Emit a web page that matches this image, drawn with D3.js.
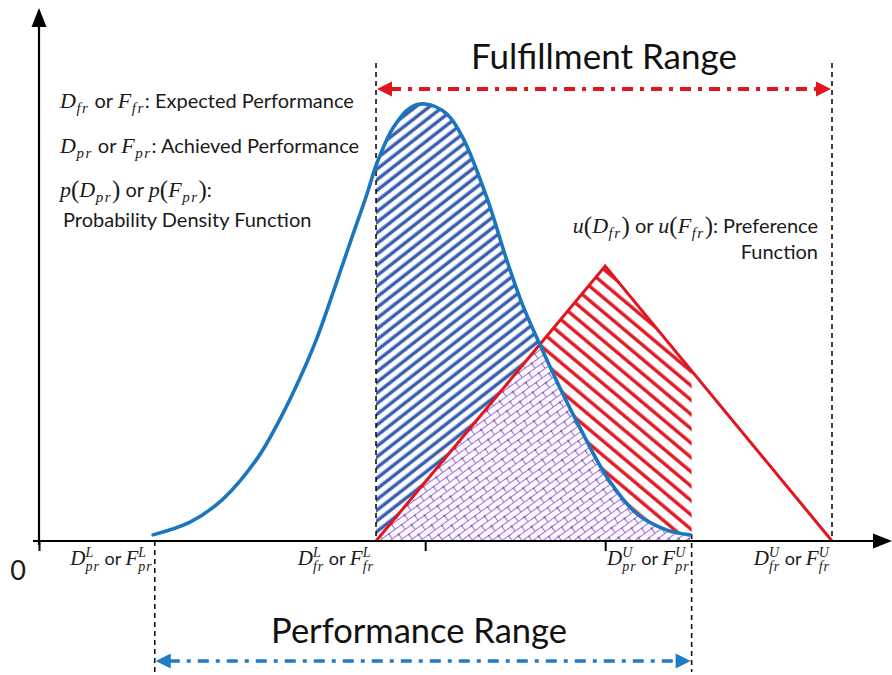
<!DOCTYPE html>
<html><head><meta charset="utf-8">
<script src="https://cdn.jsdelivr.net/npm/d3@7"></script>
<style>body{margin:0;background:#fff}svg{display:block}</style>
</head><body>
<svg id="c" width="892" height="675"></svg>
<script>
// ---------- data ----------
const pdfX = [14.38,19.04,23.20,27.49,30.39,32.91,35.06,37.07,39.22,41.36,42.62,44.64,46.78,48.68,51.45,53.47,56.49,59.02,61.03,63.18,65.70,68.22,71.63,75.41,79.19,82.09];
const pdfY = [0.014,0.043,0.096,0.188,0.279,0.373,0.465,0.568,0.682,0.794,0.865,0.945,0.991,1.0,0.977,0.922,0.785,0.641,0.538,0.449,0.350,0.259,0.146,0.062,0.025,0.014];
const prefX = [42.5, 71.4, 100];
const prefY = [0, 0.629, 0];
const perfRange = [14.6, 82.3];
const fulRange = [42.5, 100];
const tickVals = [0, 48.7, 71.4];

// ---------- setup ----------
const svg = d3.select('#c');
const x = d3.scaleLinear().domain([0, 100]).range([39, 832]);
const y = d3.scaleLinear().domain([0, 1]).range([541, 104]);
const MF = "'Liberation Serif','DejaVu Serif',serif";
const TF = "Lato,'Open Sans',sans-serif";
const BLUE = '#1b76bd', RED = '#e1161f';

const pdf = pdfX.map((v, i) => ({x: v, y: pdfY[i]}));
const pref = prefX.map((v, i) => ({x: v, y: prefY[i]}));

// ---------- patterns & clips ----------
const defs = svg.append('defs');
const pb = defs.append('pattern').attr('id', 'hb').attr('patternUnits', 'userSpaceOnUse')
  .attr('width', 20).attr('height', 8.4).attr('patternTransform', 'rotate(-38)');
pb.append('rect').attr('width', 20).attr('height', 8.4).attr('fill', '#fff');
pb.append('rect').attr('y', 2.6).attr('width', 20).attr('height', 3.2).attr('fill', '#3c5eab');
pb.append('rect').attr('y', 1.8).attr('width', 20).attr('height', 0.9).attr('fill', '#8fb3e6');

const pr = defs.append('pattern').attr('id', 'hr').attr('patternUnits', 'userSpaceOnUse')
  .attr('width', 20).attr('height', 11).attr('patternTransform', 'rotate(40)');
pr.append('rect').attr('width', 20).attr('height', 11).attr('fill', '#fff');
pr.append('rect').attr('y', 3.5).attr('width', 20).attr('height', 3.4).attr('fill', '#de1a22');

const pp = defs.append('pattern').attr('id', 'hp').attr('patternUnits', 'userSpaceOnUse')
  .attr('width', 16).attr('height', 12).attr('patternTransform', 'rotate(-36)');
pp.append('rect').attr('width', 16).attr('height', 12).attr('fill', '#fdf6fd');
pp.append('path').attr('d', 'M0,0.5H16M0,6.5H16M0.5,0.5V6.5M8.5,6.5V12.5')
  .attr('stroke', '#9a7ad2').attr('stroke-width', 1.1).attr('fill', 'none');
pp.append('circle').attr('cx', 0.5).attr('cy', 0.5).attr('r', 1.1).attr('fill', '#5b3f99');
pp.append('circle').attr('cx', 8.5).attr('cy', 6.5).attr('r', 1.1).attr('fill', '#5b3f99');

const curve = d3.curveCatmullRom.alpha(0.5);
const areaPdf = d3.area().x(d => x(d.x)).y0(y(0)).y1(d => y(d.y)).curve(curve);
const linePdf = d3.line().x(d => x(d.x)).y(d => y(d.y)).curve(curve);
const areaPref = d3.area().x(d => x(d.x)).y0(y(0)).y1(d => y(d.y));
const linePref = d3.line().x(d => x(d.x)).y(d => y(d.y));

defs.append('clipPath').attr('id', 'clipRange').append('rect')
  .attr('x', x(fulRange[0])).attr('y', 0)
  .attr('width', x(perfRange[1]) - x(fulRange[0])).attr('height', y(0));
defs.append('clipPath').attr('id', 'clipPdf').append('path').attr('d', areaPdf(pdf));

// ---------- hatched regions ----------
const gh = svg.append('g').attr('clip-path', 'url(#clipRange)');
gh.append('path').attr('d', areaPdf(pdf)).attr('fill', 'url(#hb)');
gh.append('path').attr('d', areaPref(pref)).attr('fill', 'url(#hr)');
gh.append('g').attr('clip-path', 'url(#clipPdf)')
  .append('path').attr('d', areaPref(pref)).attr('fill', 'url(#hp)');

// ---------- dashed verticals ----------
const vlines = [
  {v: perfRange[0], y1: y(0), y2: 672},
  {v: perfRange[1], y1: y(0.016), y2: 672},
  {v: fulRange[0], y1: 63, y2: y(0)},
  {v: fulRange[1], y1: 63, y2: y(0)}
];
svg.selectAll('.vl').data(vlines).join('line')
  .attr('x1', d => x(d.v)).attr('x2', d => x(d.v)).attr('y1', d => d.y1).attr('y2', d => d.y2)
  .attr('stroke', '#111').attr('stroke-width', 1.6).attr('stroke-dasharray', '5,4');

// ---------- curves ----------
svg.append('path').attr('d', linePref(pref)).attr('fill', 'none')
  .attr('stroke', RED).attr('stroke-width', 3);
svg.append('path').attr('d', linePdf(pdf)).attr('fill', 'none')
  .attr('stroke', BLUE).attr('stroke-width', 3.6).attr('stroke-linecap', 'round');

// ---------- axes ----------
const ax = svg.append('g').attr('transform', `translate(0,${y(0)})`)
  .call(d3.axisBottom(x).tickValues(tickVals).tickSize(10).tickFormat(''));
ax.select('.domain').remove();
ax.selectAll('.tick line').attr('stroke', '#000').attr('stroke-width', 2);
svg.append('line').attr('x1', 33).attr('x2', 876).attr('y1', y(0)).attr('y2', y(0))
  .attr('stroke', '#000').attr('stroke-width', 2.2);
svg.append('line').attr('x1', x(0)).attr('x2', x(0)).attr('y1', y(0) + 4).attr('y2', 24)
  .attr('stroke', '#000').attr('stroke-width', 2.2);
svg.append('path').attr('d', `M${x(0)},8L${x(0) - 7.5},27L${x(0) + 7.5},27Z`).attr('fill', '#000');
svg.append('path').attr('d', `M892,${y(0)}L873,${y(0) - 7.5}L873,${y(0) + 7.5}Z`).attr('fill', '#000');

// ---------- dash-dot range arrows ----------
function ddArrow(a, b, yy, color, sw) {
  const x1 = x(a) + 1, x2 = x(b) - 1, L = 15, H = 7.5;
  svg.append('line').attr('x1', x1 + L - 2).attr('x2', x2 - L + 2).attr('y1', yy).attr('y2', yy)
    .attr('stroke', color).attr('stroke-width', sw).attr('stroke-dasharray', '11,7,4,7');
  svg.append('path').attr('d', `M${x1},${yy}L${x1 + L},${yy - H}L${x1 + L},${yy + H}Z`).attr('fill', color);
  svg.append('path').attr('d', `M${x2},${yy}L${x2 - L},${yy - H}L${x2 - L},${yy + H}Z`).attr('fill', color);
}
ddArrow(fulRange[0], fulRange[1], 89, RED, 4);
ddArrow(perfRange[0], perfRange[1], 661, '#1f7cc2', 3.6);

// ---------- text ----------
function rich(pieces, px, py, anchor) {
  const g = svg.append('g');
  let cx = 0, lastStart = 0, lastW = 0;
  pieces.forEach(p => {
    const sx = p.stack ? lastStart : cx + (p.gap || 0);
    const t = g.append('text').attr('x', sx).attr('y', p.dy || 0).text(p.t)
      .style('white-space', 'pre')
      .attr('font-family', (p.m || p.u) ? MF : TF)
      .attr('font-style', p.m ? 'italic' : 'normal')
      .attr('letter-spacing', p.ls || 0)
      .attr('font-size', p.s).attr('fill', '#1a1a1a');
    const w = t.node().getComputedTextLength();
    if (p.stack) { cx = sx + Math.max(lastW, w); }
    else { lastStart = sx; lastW = w; cx = sx + w; }
  });
  const shift = anchor === 'end' ? -cx : anchor === 'middle' ? -cx / 2 : 0;
  g.attr('transform', `translate(${px + shift},${py})`);
}
const M = (t, s) => ({t, m: 1, s: s || 22});
const SB = t => ({t, m: 1, s: 15, dy: 5, ls: 1.5, gap: 0.5});
const T = (t, s) => ({t, s: s || 20});
const P = t => ({t, u: 1, s: 25, dy: 1});

rich([M('D'), SB('fr'), T(' or '), M('F'), SB('fr'), T(': Expected Performance')], 60, 108);
rich([M('D'), SB('pr'), T(' or '), M('F'), SB('pr'), T(': Achieved Performance')], 60, 153);
rich([M('p'), P('('), M('D'), SB('pr'), P(')'), T(' or '), M('p'), P('('), M('F'), SB('pr'), P(')'), T(':')], 60, 197);
rich([T('Probability Density Function')], 63, 227);
rich([M('u'), P('('), M('D'), SB('fr'), P(')'), T(' or '), M('u'), P('('), M('F'), SB('fr'), P(')'), T(': Preference')], 818, 233, 'end');
rich([T('Function')], 818, 259, 'end');

const SUP = t => ({t, m: 1, s: 14, dy: -8});
const SUBS = t => ({t, m: 1, s: 14, dy: 6, stack: 1, ls: 1});
const axisLabels = [
  {sup: 'L', sub: 'pr', v: perfRange[0]},
  {sup: 'L', sub: 'fr', v: fulRange[0]},
  {sup: 'U', sub: 'pr', v: perfRange[1]},
  {sup: 'U', sub: 'fr', v: fulRange[1]}
];
axisLabels.forEach(l => rich([M('D', 21), SUP(l.sup), SUBS(l.sub), T(' or ', 18), M('F', 21), SUP(l.sup), SUBS(l.sub)], x(l.v) - 2, 565, 'end'));

svg.append('text').attr('x', 18).attr('y', 580).attr('text-anchor', 'middle')
  .attr('font-family', TF).attr('font-size', 27).attr('fill', '#1a1a1a').text('0');
svg.append('text').attr('x', 604).attr('y', 69).attr('text-anchor', 'middle')
  .attr('font-family', TF).attr('font-size', 35).attr('fill', '#111').text('Fulfillment Range');
svg.append('text').attr('x', 419).attr('y', 643).attr('text-anchor', 'middle')
  .attr('font-family', TF).attr('font-size', 34.5).attr('fill', '#111').text('Performance Range');
</script>
</body></html>
